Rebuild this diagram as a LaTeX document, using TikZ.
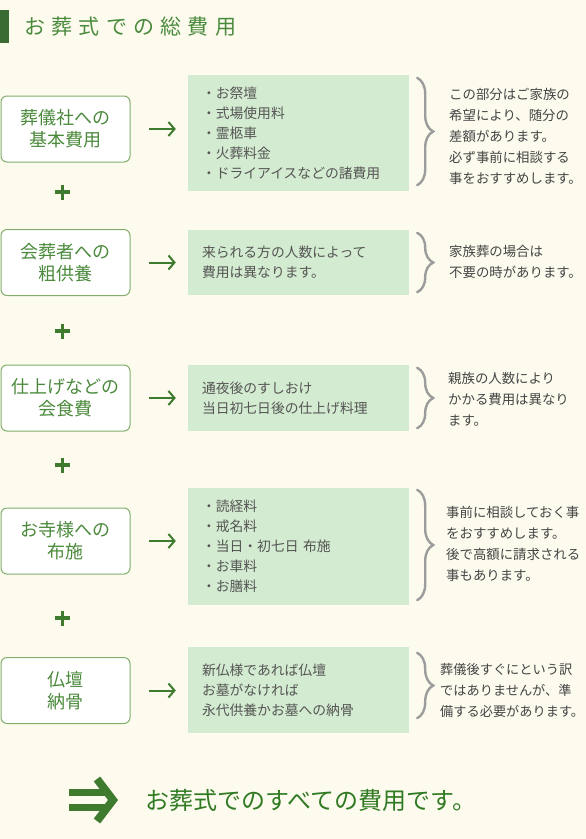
\documentclass[tikz,border=0pt]{standalone}
\usepackage{fontspec}
\setmainfont{Noto Sans CJK JP}
\newfontfamily\titlefont[LetterSpace=30]{Noto Sans CJK JP}
\usetikzlibrary{arrows.meta,positioning,decorations.pathreplacing}
\definecolor{paper}{HTML}{FDFBEE}
\definecolor{leaf}{HTML}{3E7B2F}
\definecolor{moss}{HTML}{4B8A3C}
\definecolor{rim}{HTML}{82AE6C}
\definecolor{mint}{HTML}{D3EBD0}
\definecolor{slate}{HTML}{555555}
\definecolor{note}{HTML}{444444}
\definecolor{curl}{HTML}{9C9C9C}
\definecolor{bar}{HTML}{3A6B33}
\definecolor{sumtext}{HTML}{2F7A22}
\tikzset{
  cost/.style={rounded corners=6pt, draw=rim, line width=1pt, fill=white, minimum width=129pt, minimum height=66pt, inner sep=0pt, font=\fontsize{18}{22}\selectfont, text=moss, align=center},
  detail/.style={draw=none, fill=mint, minimum width=221pt, text width=193pt, inner xsep=14pt, inner ysep=0pt, font=\fontsize{13.8}{20}\selectfont, text=slate, align=left},
  remark/.style={anchor=west, inner sep=0pt, font=\fontsize{13.4}{21}\selectfont, text=note, align=left},
  plus/.style={minimum size=15pt, inner sep=0pt, path picture={\draw[leaf, line width=3.4pt] (path picture bounding box.north)--(path picture bounding box.south) (path picture bounding box.west)--(path picture bounding box.east);}},
  flow/.style={-{Straight Barb[length=6pt,width=14pt]}, line width=2pt, draw=leaf, shorten <=18pt, shorten >=12pt},
  curly/.style={decorate, decoration={brace, amplitude=16pt}, draw=curl, line width=2.4pt, line cap=round},
}
\begin{document}
\begin{tikzpicture}[x=1pt,y=-1pt]
  \useasboundingbox(0,0) rectangle (586,839);
  \fill[paper](0,0) rectangle (586,839);
  \fill[bar](0,10) rectangle (9,43);
  \node[anchor=west, inner sep=0pt, font=\titlefont\fontsize{21}{21}\selectfont, text=moss](title) at (24,27){お葬式での総費用};

  \node[cost](fee) at (65.5,129){葬儀社への\\基本費用};
  \node[cost](gift) at (65.5,262.5){会葬者への\\粗供養};
  \node[cost](feast) at (65.5,398){仕上げなどの\\会食費};
  \node[cost](temple) at (65.5,541){お寺様への\\布施};
  \node[cost](grave) at (65.5,690.5){仏壇\\納骨};

  \node[plus](p1) at (62.5,192){};
  \node[plus](p2) at (62.5,331){};
  \node[plus](p3) at (62.5,465){};
  \node[plus](p4) at (62.5,618){};

  \node[detail,minimum height=116pt](feeD) at (298.5,133){・お祭壇\\・式場使用料\\・霊柩車\\・火葬料金\\・ドライアイスなどの諸費用};
  \node[detail,minimum height=65pt](giftD) at (298.5,262.5){来られる方の人数によって\\費用は異なります。};
  \node[detail,minimum height=66pt](feastD) at (298.5,398){通夜後のすしおけ\\当日初七日後の仕上げ料理};
  \node[detail,minimum height=117pt](templeD) at (298.5,546.5){・読経料\\・戒名料\\・当日・初七日 布施\\・お車料\\・お膳料};
  \node[detail,minimum height=86pt](graveD) at (298.5,690){新仏様であれば仏壇\\お墓がなければ\\永代供養かお墓への納骨};

  \node[remark](feeN) at (449,136){この部分はご家族の\\希望により、随分の\\差額があります。\\必ず事前に相談する\\事をおすすめします。};
  \node[remark](giftN) at (449,262){家族葬の場合は\\不要の時があります。};
  \node[remark](feastN) at (448,399){親族の人数により\\かかる費用は異なり\\ます。};
  \node[remark](templeN) at (446,544){事前に相談しておく事\\をおすすめします。\\後で高額に請求される\\事もあります。};
  \node[remark,font=\fontsize{13.2}{21}\selectfont](graveN) at (440,690){葬儀後すぐにという訳\\ではありませんが、準\\備する必要があります。};

  \draw[flow](fee.east)--(fee.east -| feeD.west);
  \draw[flow](gift.east)--(gift.east -| giftD.west);
  \draw[flow](feast.east)--(feast.east -| feastD.west);
  \draw[flow](temple.east)--(temple.east -| templeD.west);
  \draw[flow](grave.east)--(grave.east -| graveD.west);

  \draw[curly]([xshift=8pt,yshift=-3pt]feeD.north east)--([xshift=8pt,yshift=6pt]feeD.south east);
  \draw[curly]([xshift=8pt,yshift=-3pt]giftD.north east)--([xshift=8pt,yshift=3pt]giftD.south east);
  \draw[curly]([xshift=8pt,yshift=-3pt]feastD.north east)--([xshift=8pt,yshift=3pt]feastD.south east);
  \draw[curly]([xshift=8pt,yshift=-2pt]templeD.north east)--([xshift=8pt,yshift=5pt]templeD.south east);
  \draw[curly]([xshift=8pt,yshift=-6pt]graveD.north east)--([xshift=8pt,yshift=15pt]graveD.south east);

  \coordinate(sum) at (69,800);
  \draw[leaf,line width=7pt](sum)++(0,-8)--++(38,0);
  \draw[leaf,line width=7pt](sum)++(0,7)--++(38,0);
  \draw[leaf,line width=8pt,line join=miter]([xshift=28pt,yshift=21pt]sum)--([xshift=44pt]sum)--([xshift=28pt,yshift=-21pt]sum);
  \node[anchor=west, inner sep=0pt, font=\fontsize{24}{24}\selectfont, text=sumtext](total) at (145,800){お葬式でのすべての費用です。};
\end{tikzpicture}
\end{document}
